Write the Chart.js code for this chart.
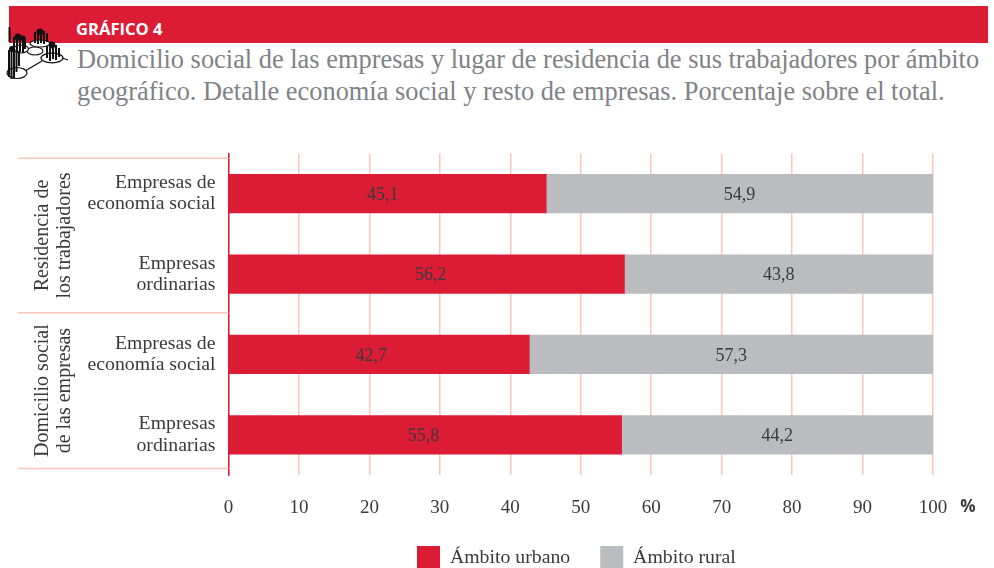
<!DOCTYPE html>
<html lang="es">
<head>
<meta charset="utf-8">
<title>Gráfico 4</title>
<script src="https://cdn.jsdelivr.net/npm/chart.js@4"></script>
<style>
html,body{margin:0;padding:0;background:#fff;width:994px;height:568px;overflow:hidden}
#wrap{position:relative;width:994px;height:568px}
#band{position:absolute;left:9px;top:6px;width:979px;height:37px;background:#dc1c35}
#tag{position:absolute;left:76px;top:19px;font:700 16.6px/20px "Open Sans",sans-serif;color:#fff}
#title{position:absolute;left:77px;top:43px;width:915px;font:26.4px/32px "Liberation Serif",serif;color:#808285;white-space:nowrap}
#icon{position:absolute;left:0;top:20px}
canvas{position:absolute;left:0;top:0}
</style>
</head>
<body>
<div id="wrap">
  <div id="band"></div>
  <div id="tag">GRÁFICO 4</div>
  <div id="title">Domicilio social de las empresas y lugar de residencia de sus trabajadores por ámbito<br>geográfico. Detalle economía social y resto de empresas. Porcentaje sobre el total.</div>
  <svg id="icon" width="72" height="64" viewBox="0 20 72 64">
    <path d="M25 71L42 61M62 58L68 60M27 50L30 50M38 47L40 46" stroke="#111" stroke-width="1.3" fill="none"/>
    <g fill="#fff" stroke="#111" stroke-width="1.2">
      <ellipse cx="17" cy="73" rx="10" ry="5.5"/>
      <ellipse cx="52" cy="58" rx="11" ry="4.8"/>
      <ellipse cx="35" cy="51" rx="8" ry="4"/>
      <ellipse cx="40" cy="43.5" rx="10" ry="3.5"/>
      <ellipse cx="21" cy="49" rx="7.5" ry="4"/>
    </g>
    <g stroke="#111" stroke-width="2" fill="none">
      <path d="M9.5 27V42M14 37V51M17 36V53M20 38V52M23 37V53M25 39V49"/>
      <path d="M35 32V43M38 31V44M41 30V43M44 31V44M47 33V42"/>
      <path d="M47 46V58M50 44V61M53 43V59M56 45V60M59 48V57"/>
      <path d="M9 50V77M11.5 48V79M14 49V78M16.5 49V72M19 51V66"/>
    </g>
    <g fill="#111">
      <circle cx="18" cy="37" r="3.5"/><circle cx="23" cy="38" r="2.6"/>
      <circle cx="40" cy="32" r="3.6"/><circle cx="52" cy="45" r="3.4"/>
      <circle cx="12" cy="49" r="3"/>
    </g>
  </svg>
  <canvas id="c" width="994" height="568"></canvas>
</div>
<script>
const categories = [["Empresas de","economía social"],["Empresas","ordinarias"],["Empresas de","economía social"],["Empresas","ordinarias"]];
const urbano = [45.1, 56.2, 42.7, 55.8];
const rural = [54.9, 43.8, 57.3, 44.2];
const seriesNames = ["Ámbito urbano", "Ámbito rural"];
const xTicks = [0,10,20,30,40,50,60,70,80,90,100];
const groupLabels = [["Residencia de","los trabajadores"],["Domicilio social","de las empresas"]];
const unitLabel = "%";

const RED = "#dc1c35", GREY = "#bbbcbf", SALMON = "#f9c6ba", INK = "#3a3a3c";
const SERIF = '"Liberation Serif", serif';
const LABEL_NUDGE = [-5, 4, -8, -2];

const annotations = {
  id: "annotations",
  beforeDraw(chart) {
    const l = chart.legend;
    l.left = 387; l.right = 994; l.top = 516; l.bottom = 568;
  },
  afterDatasetsDraw(chart) {
    const ctx = chart.ctx, y = chart.scales.y, x = chart.scales.x;
    ctx.save();
    ctx.font = "18px " + SERIF;
    ctx.fillStyle = INK;
    ctx.textAlign = "center";
    ctx.textBaseline = "middle";
    chart.data.datasets.forEach((ds, di) => {
      chart.getDatasetMeta(di).data.forEach((bar, i) => {
        const c = bar.getCenterPoint();
        const dx = di === 0 ? LABEL_NUDGE[i] : 0;
        ctx.fillText(String(ds.data[i]).replace(".", ","), c.x + dx, c.y + 1.5);
      });
    });
    const lines = [y.getPixelForValue(-0.44), y.getPixelForValue(1.48), y.getPixelForValue(3.42)];
    ctx.strokeStyle = SALMON; ctx.lineWidth = 1.5;
    lines.forEach(py => {
      ctx.beginPath(); ctx.moveTo(18, py); ctx.lineTo(x.left, py); ctx.stroke();
    });
    ctx.font = "20px " + SERIF;
    groupLabels.forEach((g, i) => {
      const cy = (lines[i] + lines[i + 1]) / 2;
      g.forEach((t, j) => {
        ctx.save();
        ctx.translate(43 + j * 22, cy);
        ctx.rotate(-Math.PI / 2);
        ctx.fillText(t, 0, 0);
        ctx.restore();
      });
    });
    ctx.font = '700 17px "Open Sans", sans-serif';
    ctx.fillText(unitLabel, 968, 507);
    ctx.restore();
  }
};

new Chart(document.getElementById("c"), {
  type: "bar",
  data: {
    labels: categories,
    datasets: [
      { label: seriesNames[0], data: urbano, backgroundColor: RED, borderWidth: 0, barThickness: 38.5 },
      { label: seriesNames[1], data: rural, backgroundColor: GREY, borderWidth: 0, barThickness: 38.5 }
    ]
  },
  options: {
    indexAxis: "y",
    responsive: false,
    animation: false,
    layout: { padding: { left: 0, right: 61, top: 153.5, bottom: -15 } },
    plugins: {
      tooltip: { enabled: false },
      legend: {
        position: "bottom",
        align: "start",
        labels: { boxWidth: 23, boxHeight: 23, padding: 30, color: INK, font: { family: SERIF, size: 19.8 } }
      }
    },
    scales: {
      x: {
        stacked: true, min: 0, max: 100,
        afterBuildTicks(s) { s.ticks = xTicks.map(v => ({ value: v })); },
        afterFit(s) { s.height = 45; },
        grid: { color: SALMON, lineWidth: 1.5, drawTicks: false },
        border: { display: false },
        ticks: { padding: 22, color: INK, font: { family: SERIF, size: 19 }, maxRotation: 0, autoSkip: false }
      },
      y: {
        stacked: true,
        afterFit(s) { s.width = 228.5; },
        grid: { display: false, drawTicks: false },
        border: { color: RED, width: 1.5 },
        ticks: { padding: 13, color: INK, font: { family: SERIF, size: 19.8, lineHeight: 1.07 }, autoSkip: false }
      }
    }
  },
  plugins: [annotations]
});
</script>
</body>
</html>
